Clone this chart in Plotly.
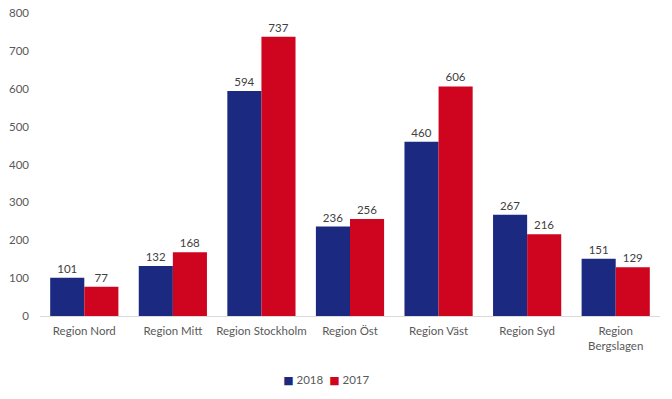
import plotly.graph_objects as go

categories = ["Region Nord", "Region Mitt", "Region Stockholm", "Region Öst",
              "Region Väst", "Region Syd", "Region<br>Bergslagen"]
values_2018 = [101, 132, 594, 236, 460, 267, 151]
values_2017 = [77, 168, 737, 256, 606, 216, 129]
y_ticks = [0, 100, 200, 300, 400, 500, 600, 700, 800]
legend_names = ["2018", "2017"]

font_family = "Lato, Open Sans, DejaVu Sans, sans-serif"
blue = "#1B2A80"
red = "#CF0520"
fs = 11.5

fig = go.Figure()
fig.add_trace(go.Bar(
    name="2018", x=categories, y=values_2018, marker_color=blue, marker_line_width=0,
    text=values_2018, textposition="outside", cliponaxis=False,
    textfont=dict(size=fs, color="#404040"), showlegend=False,
))
fig.add_trace(go.Bar(
    name="2017", x=categories, y=values_2017, marker_color=red, marker_line_width=0,
    text=values_2017, textposition="outside", cliponaxis=False,
    textfont=dict(size=fs, color="#404040"), showlegend=False,
))
# legend entries: small coloured square drawn as part of the entry text
for name, col in zip(legend_names, [blue, red]):
    fig.add_trace(go.Scatter(
        name=f"<span style='color:{col};font-size:11px'>■</span> {name}",
        x=[None], y=[None], mode="markers",
        marker=dict(symbol="square", size=1, color="rgba(0,0,0,0)"), showlegend=True,
    ))
# spacer entry so the last legend label is not clipped
fig.add_trace(go.Scatter(
    name=" ", x=[None], y=[None], mode="markers",
    marker=dict(symbol="square", size=1, color="rgba(0,0,0,0)"), showlegend=True,
))

fig.update_layout(
    width=672, height=399,
    barmode="group", bargap=0.23, bargroupgap=0,
    plot_bgcolor="white", paper_bgcolor="white",
    font=dict(family=font_family, size=fs, color="#595959"),
    margin=dict(l=40, r=12, t=13, b=83, autoexpand=False),
    legend=dict(orientation="h", x=0.439, xanchor="center", y=-0.21, yanchor="middle",
                font=dict(size=fs, color="#595959"), itemwidth=30,
                entrywidth=1, traceorder="normal", tracegroupgap=0),
    xaxis=dict(showline=True, linecolor="#D9D9D9", linewidth=1, ticks="",
               automargin=False, tickfont=dict(size=fs, color="#595959"),
               ticklabelstandoff=4),
    yaxis=dict(range=[0, 800], tickvals=y_ticks, showgrid=False, zeroline=False,
               showline=False, tickfont=dict(size=fs, color="#595959"),
               ticks="", automargin=False, ticklabelstandoff=10),
)

fig.write_html("out.html", config={"displayModeBar": False},
               post_script="document.body.style.margin='0';")
